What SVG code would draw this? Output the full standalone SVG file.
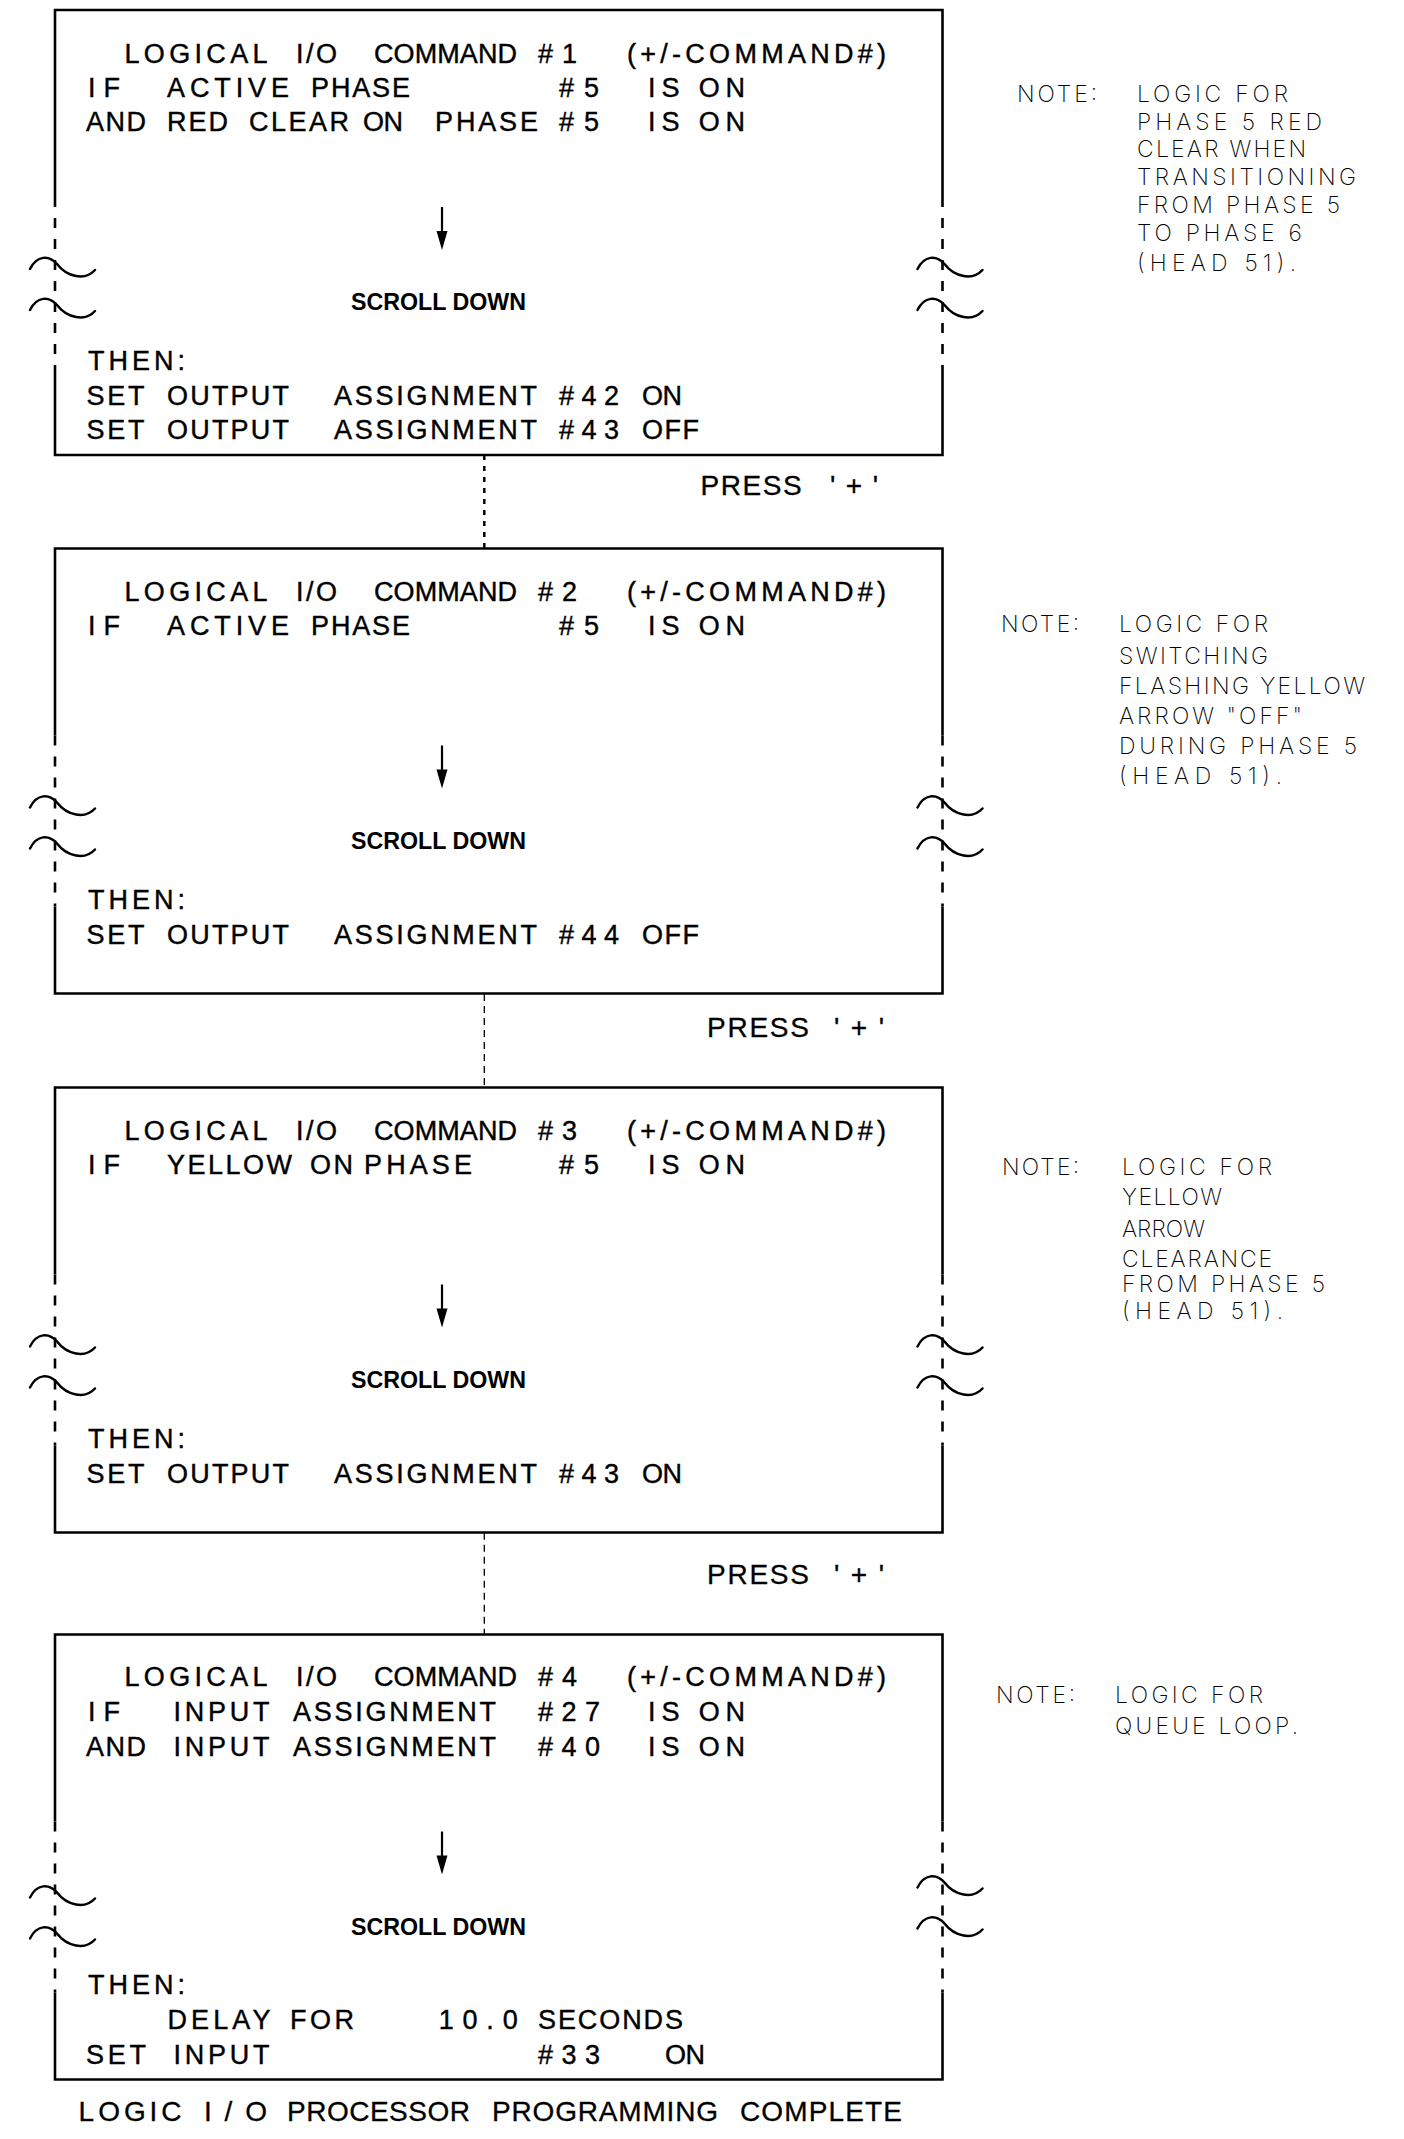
<svg xmlns="http://www.w3.org/2000/svg" xmlns:xlink="http://www.w3.org/1999/xlink" width="1404" height="2139" viewBox="0 0 1404 2139">
<style>
.frame{fill:none;stroke:#000;stroke-width:2.6}
.side{fill:none;stroke:#000;stroke-width:2.6;stroke-dasharray:10 11}
.tl{fill:none;stroke:#000;stroke-width:2.5;stroke-linecap:round}
.t{font-family:'Liberation Sans',Arial,sans-serif;font-size:27px;fill:#000;stroke:#000;stroke-width:0.4}
.sd{font-family:'Liberation Sans',Arial,sans-serif;font-weight:bold;font-size:24px;fill:#000}
.p{font-family:'Liberation Sans',Arial,sans-serif;font-size:28px;fill:#000;stroke:#000;stroke-width:0.3}
.n{font-family:Inter,'Liberation Sans',sans-serif;font-weight:200;font-size:23px;fill:#000}
.c1{fill:none;stroke:#000;stroke-width:2.5;stroke-dasharray:5 6}
.c2{fill:none;stroke:#000;stroke-width:1.3;stroke-dasharray:7 5}
</style>
<defs>
<path id="tilde" class="tl" d="M-25,6 C-18,-8 -6,-8 2,1 C12,14 30,18 40,7"/>
<g id="arrow"><path d="M442,0 V28" stroke="#000" stroke-width="2.2"/><polygon points="436.5,24 447.5,24 442,43" fill="#000"/></g>
</defs>

<g id="connectors">
<path class="c1" d="M484.3,455 V548.5"/>
<path class="c2" d="M484.3,994 V1087.5"/>
<path class="c2" d="M484.3,1532.7 V1634.5"/>
<text class="p" x="700.6" y="495" textLength="101" lengthAdjust="spacing">PRESS</text>
<text class="p" x="830" y="495" textLength="48" lengthAdjust="spacing">'+'</text>
<text class="p" x="707" y="1037" textLength="102" lengthAdjust="spacing">PRESS</text>
<text class="p" x="834" y="1037" textLength="50" lengthAdjust="spacing">'+'</text>
<text class="p" x="707" y="1584" textLength="102" lengthAdjust="spacing">PRESS</text>
<text class="p" x="834" y="1584" textLength="50" lengthAdjust="spacing">'+'</text>
</g>

<g id="command1">
<path class="frame" d="M55,197 V10 H942.5 V197 M55,368 V455 H942.5 V368"/>
<path class="side" d="M55,197 V368 M942.5,197 V368"/>
<use xlink:href="#tilde" x="55" y="263"/><use xlink:href="#tilde" x="55" y="304"/>
<use xlink:href="#tilde" x="942.5" y="263"/><use xlink:href="#tilde" x="942.5" y="304"/>
<use xlink:href="#arrow" y="207"/>
<text class="sd" x="351" y="310" textLength="175" lengthAdjust="spacingAndGlyphs">SCROLL DOWN</text>
<text class="t" x="124.5" y="62.7" textLength="143" lengthAdjust="spacing">LOGICAL</text>
<text class="t" x="296" y="62.7" textLength="41" lengthAdjust="spacing">I/O</text>
<text class="t" x="374" y="62.7" textLength="143" lengthAdjust="spacing">COMMAND</text>
<text class="t" x="538" y="62.7" textLength="39" lengthAdjust="spacing">#1</text>
<text class="t" x="627" y="62.7" textLength="259" lengthAdjust="spacing">(+/-COMMAND#)</text>
<text class="t" x="88" y="96.7" textLength="32" lengthAdjust="spacing">IF</text>
<text class="t" x="167" y="96.7" textLength="122" lengthAdjust="spacing">ACTIVE</text>
<text class="t" x="311" y="96.7" textLength="99" lengthAdjust="spacing">PHASE</text>
<text class="t" x="559" y="96.7" textLength="40" lengthAdjust="spacing">#5</text>
<text class="t" x="648" y="96.7" textLength="97" lengthAdjust="spacing">IS ON</text>
<text class="t" x="86" y="130.5" textLength="60" lengthAdjust="spacing">AND</text>
<text class="t" x="167" y="130.5" textLength="61" lengthAdjust="spacing">RED</text>
<text class="t" x="249" y="130.5" textLength="100" lengthAdjust="spacing">CLEAR</text>
<text class="t" x="363" y="130.5" textLength="40" lengthAdjust="spacing">ON</text>
<text class="t" x="435" y="130.5" textLength="103" lengthAdjust="spacing">PHASE</text>
<text class="t" x="559" y="130.5" textLength="40" lengthAdjust="spacing">#5</text>
<text class="t" x="648" y="130.5" textLength="97" lengthAdjust="spacing">IS ON</text>
<text class="t" x="88" y="370" textLength="97" lengthAdjust="spacing">THEN:</text>
<text class="t" x="86.5" y="405" textLength="58" lengthAdjust="spacing">SET</text>
<text class="t" x="167" y="405" textLength="122" lengthAdjust="spacing">OUTPUT</text>
<text class="t" x="334" y="405" textLength="203" lengthAdjust="spacing">ASSIGNMENT</text>
<text class="t" x="559" y="405" textLength="60" lengthAdjust="spacing">#42</text>
<text class="t" x="642" y="405" textLength="40" lengthAdjust="spacing">ON</text>
<text class="t" x="86.5" y="438.5" textLength="58" lengthAdjust="spacing">SET</text>
<text class="t" x="167" y="438.5" textLength="122" lengthAdjust="spacing">OUTPUT</text>
<text class="t" x="334" y="438.5" textLength="203" lengthAdjust="spacing">ASSIGNMENT</text>
<text class="t" x="559" y="438.5" textLength="60" lengthAdjust="spacing">#43</text>
<text class="t" x="642" y="438.5" textLength="57" lengthAdjust="spacing">OFF</text>
</g>

<g id="command2">
<path class="frame" d="M55,735.5 V548.5 H942.5 V735.5 M55,906.5 V993.5 H942.5 V906.5"/>
<path class="side" d="M55,735.5 V906.5 M942.5,735.5 V906.5"/>
<use xlink:href="#tilde" x="55" y="801.5"/><use xlink:href="#tilde" x="55" y="842.5"/>
<use xlink:href="#tilde" x="942.5" y="801.5"/><use xlink:href="#tilde" x="942.5" y="842.5"/>
<use xlink:href="#arrow" y="745.5"/>
<text class="sd" x="351" y="848.5" textLength="175" lengthAdjust="spacingAndGlyphs">SCROLL DOWN</text>
<text class="t" x="124.5" y="601.2" textLength="143" lengthAdjust="spacing">LOGICAL</text>
<text class="t" x="296" y="601.2" textLength="41" lengthAdjust="spacing">I/O</text>
<text class="t" x="374" y="601.2" textLength="143" lengthAdjust="spacing">COMMAND</text>
<text class="t" x="538" y="601.2" textLength="39" lengthAdjust="spacing">#2</text>
<text class="t" x="627" y="601.2" textLength="259" lengthAdjust="spacing">(+/-COMMAND#)</text>
<text class="t" x="88" y="635.2" textLength="32" lengthAdjust="spacing">IF</text>
<text class="t" x="167" y="635.2" textLength="122" lengthAdjust="spacing">ACTIVE</text>
<text class="t" x="311" y="635.2" textLength="99" lengthAdjust="spacing">PHASE</text>
<text class="t" x="559" y="635.2" textLength="40" lengthAdjust="spacing">#5</text>
<text class="t" x="648" y="635.2" textLength="97" lengthAdjust="spacing">IS ON</text>
<text class="t" x="88" y="908.5" textLength="97" lengthAdjust="spacing">THEN:</text>
<text class="t" x="86.5" y="943.5" textLength="58" lengthAdjust="spacing">SET</text>
<text class="t" x="167" y="943.5" textLength="122" lengthAdjust="spacing">OUTPUT</text>
<text class="t" x="334" y="943.5" textLength="203" lengthAdjust="spacing">ASSIGNMENT</text>
<text class="t" x="559" y="943.5" textLength="60" lengthAdjust="spacing">#44</text>
<text class="t" x="642" y="943.5" textLength="57" lengthAdjust="spacing">OFF</text>
</g>

<g id="command3">
<path class="frame" d="M55,1274.5 V1087.5 H942.5 V1274.5 M55,1445.5 V1532.5 H942.5 V1445.5"/>
<path class="side" d="M55,1274.5 V1445.5 M942.5,1274.5 V1445.5"/>
<use xlink:href="#tilde" x="55" y="1340.5"/><use xlink:href="#tilde" x="55" y="1381.5"/>
<use xlink:href="#tilde" x="942.5" y="1340.5"/><use xlink:href="#tilde" x="942.5" y="1381.5"/>
<use xlink:href="#arrow" y="1284.5"/>
<text class="sd" x="351" y="1387.5" textLength="175" lengthAdjust="spacingAndGlyphs">SCROLL DOWN</text>
<text class="t" x="124.5" y="1140.2" textLength="143" lengthAdjust="spacing">LOGICAL</text>
<text class="t" x="296" y="1140.2" textLength="41" lengthAdjust="spacing">I/O</text>
<text class="t" x="374" y="1140.2" textLength="143" lengthAdjust="spacing">COMMAND</text>
<text class="t" x="538" y="1140.2" textLength="39" lengthAdjust="spacing">#3</text>
<text class="t" x="627" y="1140.2" textLength="259" lengthAdjust="spacing">(+/-COMMAND#)</text>
<text class="t" x="88" y="1174.2" textLength="32" lengthAdjust="spacing">IF</text>
<text class="t" x="167" y="1174.2" textLength="125" lengthAdjust="spacing">YELLOW</text>
<text class="t" x="310" y="1174.2" textLength="43" lengthAdjust="spacing">ON</text>
<text class="t" x="364" y="1174.2" textLength="108" lengthAdjust="spacing">PHASE</text>
<text class="t" x="559" y="1174.2" textLength="40" lengthAdjust="spacing">#5</text>
<text class="t" x="648" y="1174.2" textLength="97" lengthAdjust="spacing">IS ON</text>
<text class="t" x="88" y="1447.5" textLength="97" lengthAdjust="spacing">THEN:</text>
<text class="t" x="86.5" y="1482.5" textLength="58" lengthAdjust="spacing">SET</text>
<text class="t" x="167" y="1482.5" textLength="122" lengthAdjust="spacing">OUTPUT</text>
<text class="t" x="334" y="1482.5" textLength="203" lengthAdjust="spacing">ASSIGNMENT</text>
<text class="t" x="559" y="1482.5" textLength="60" lengthAdjust="spacing">#43</text>
<text class="t" x="642" y="1482.5" textLength="40" lengthAdjust="spacing">ON</text>
</g>

<g id="command4">
<path class="frame" d="M55,1821.5 V1634.5 H942.5 V1821.5 M55,1992.5 V2079.5 H942.5 V1992.5"/>
<path class="side" d="M55,1821.5 V1992.5 M942.5,1821.5 V1992.5"/>
<use xlink:href="#tilde" x="55" y="1891.5"/><use xlink:href="#tilde" x="55" y="1932.5"/>
<use xlink:href="#tilde" x="942.5" y="1881.5"/><use xlink:href="#tilde" x="942.5" y="1922.5"/>
<use xlink:href="#arrow" y="1831.5"/>
<text class="sd" x="351" y="1934.5" textLength="175" lengthAdjust="spacingAndGlyphs">SCROLL DOWN</text>
<text class="t" x="124.5" y="1686" textLength="143" lengthAdjust="spacing">LOGICAL</text>
<text class="t" x="296" y="1686" textLength="41" lengthAdjust="spacing">I/O</text>
<text class="t" x="374" y="1686" textLength="143" lengthAdjust="spacing">COMMAND</text>
<text class="t" x="538" y="1686" textLength="39" lengthAdjust="spacing">#4</text>
<text class="t" x="627" y="1686" textLength="259" lengthAdjust="spacing">(+/-COMMAND#)</text>
<text class="t" x="88" y="1720.5" textLength="32" lengthAdjust="spacing">IF</text>
<text class="t" x="173.5" y="1720.5" textLength="96" lengthAdjust="spacing">INPUT</text>
<text class="t" x="293" y="1720.5" textLength="203" lengthAdjust="spacing">ASSIGNMENT</text>
<text class="t" x="538" y="1720.5" textLength="62" lengthAdjust="spacing">#27</text>
<text class="t" x="648" y="1720.5" textLength="97" lengthAdjust="spacing">IS ON</text>
<text class="t" x="86" y="1755.5" textLength="60" lengthAdjust="spacing">AND</text>
<text class="t" x="173.5" y="1755.5" textLength="96" lengthAdjust="spacing">INPUT</text>
<text class="t" x="293" y="1755.5" textLength="203" lengthAdjust="spacing">ASSIGNMENT</text>
<text class="t" x="538" y="1755.5" textLength="62" lengthAdjust="spacing">#40</text>
<text class="t" x="648" y="1755.5" textLength="97" lengthAdjust="spacing">IS ON</text>
<text class="t" x="88" y="1993.5" textLength="97" lengthAdjust="spacing">THEN:</text>
<text class="t" x="167.5" y="2028.5" textLength="103" lengthAdjust="spacing">DELAY</text>
<text class="t" x="290" y="2028.5" textLength="64" lengthAdjust="spacing">FOR</text>
<text class="t" x="438.7" y="2028.5" textLength="79" lengthAdjust="spacing">10.0</text>
<text class="t" x="538" y="2028.5" textLength="145" lengthAdjust="spacing">SECONDS</text>
<text class="t" x="86" y="2064" textLength="60" lengthAdjust="spacing">SET</text>
<text class="t" x="173.5" y="2064" textLength="96" lengthAdjust="spacing">INPUT</text>
<text class="t" x="538" y="2064" textLength="62" lengthAdjust="spacing">#33</text>
<text class="t" x="665" y="2064" textLength="40" lengthAdjust="spacing">ON</text>
</g>

<g id="complete">
<text class="p" x="78.6" y="2121" textLength="103" lengthAdjust="spacing">LOGIC</text>
<text class="p" x="204" y="2121" textLength="63" lengthAdjust="spacing">I/O</text>
<text class="p" x="287" y="2121" textLength="183" lengthAdjust="spacing">PROCESSOR</text>
<text class="p" x="492" y="2121" textLength="226" lengthAdjust="spacing">PROGRAMMING</text>
<text class="p" x="740" y="2121" textLength="162" lengthAdjust="spacing">COMPLETE</text>
</g>

<g id="note1">
<text class="n" x="1017" y="102" textLength="80" lengthAdjust="spacing">NOTE:</text>
<text class="n" x="1137" y="102" textLength="151" lengthAdjust="spacing">LOGIC FOR</text>
<text class="n" x="1137" y="130" textLength="185" lengthAdjust="spacing">PHASE 5 RED</text>
<text class="n" x="1137" y="157" textLength="169" lengthAdjust="spacing">CLEAR WHEN</text>
<text class="n" x="1137" y="185" textLength="219" lengthAdjust="spacing">TRANSITIONING</text>
<text class="n" x="1137" y="212.5" textLength="203" lengthAdjust="spacing">FROM PHASE 5</text>
<text class="n" x="1137" y="240.5" textLength="165" lengthAdjust="spacing">TO PHASE 6</text>
<text class="n" x="1137" y="271" textLength="159" lengthAdjust="spacing">(HEAD 51).</text>
</g>

<g id="note2">
<text class="n" x="1001" y="632" textLength="78" lengthAdjust="spacing">NOTE:</text>
<text class="n" x="1119" y="632" textLength="149" lengthAdjust="spacing">LOGIC FOR</text>
<text class="n" x="1119" y="664" textLength="149" lengthAdjust="spacing">SWITCHING</text>
<text class="n" x="1119" y="694" textLength="246" lengthAdjust="spacing">FLASHING YELLOW</text>
<text class="n" x="1119" y="724" textLength="183" lengthAdjust="spacing">ARROW "OFF"</text>
<text class="n" x="1119" y="754" textLength="238" lengthAdjust="spacing">DURING PHASE 5</text>
<text class="n" x="1119" y="784" textLength="163" lengthAdjust="spacing">(HEAD 51).</text>
</g>

<g id="note3">
<text class="n" x="1002" y="1175" textLength="77" lengthAdjust="spacing">NOTE:</text>
<text class="n" x="1122" y="1175" textLength="150" lengthAdjust="spacing">LOGIC FOR</text>
<text class="n" x="1122" y="1205" textLength="100" lengthAdjust="spacing">YELLOW</text>
<text class="n" x="1122" y="1236.5" textLength="83" lengthAdjust="spacing">ARROW</text>
<text class="n" x="1122" y="1266.5" textLength="150" lengthAdjust="spacing">CLEARANCE</text>
<text class="n" x="1122" y="1292" textLength="203" lengthAdjust="spacing">FROM PHASE 5</text>
<text class="n" x="1122" y="1318.5" textLength="161" lengthAdjust="spacing">(HEAD 51).</text>
</g>

<g id="note4">
<text class="n" x="996" y="1703" textLength="79" lengthAdjust="spacing">NOTE:</text>
<text class="n" x="1115" y="1703" textLength="148" lengthAdjust="spacing">LOGIC FOR</text>
<text class="n" x="1115" y="1734" textLength="183" lengthAdjust="spacing">QUEUE LOOP.</text>
</g>
</svg>
